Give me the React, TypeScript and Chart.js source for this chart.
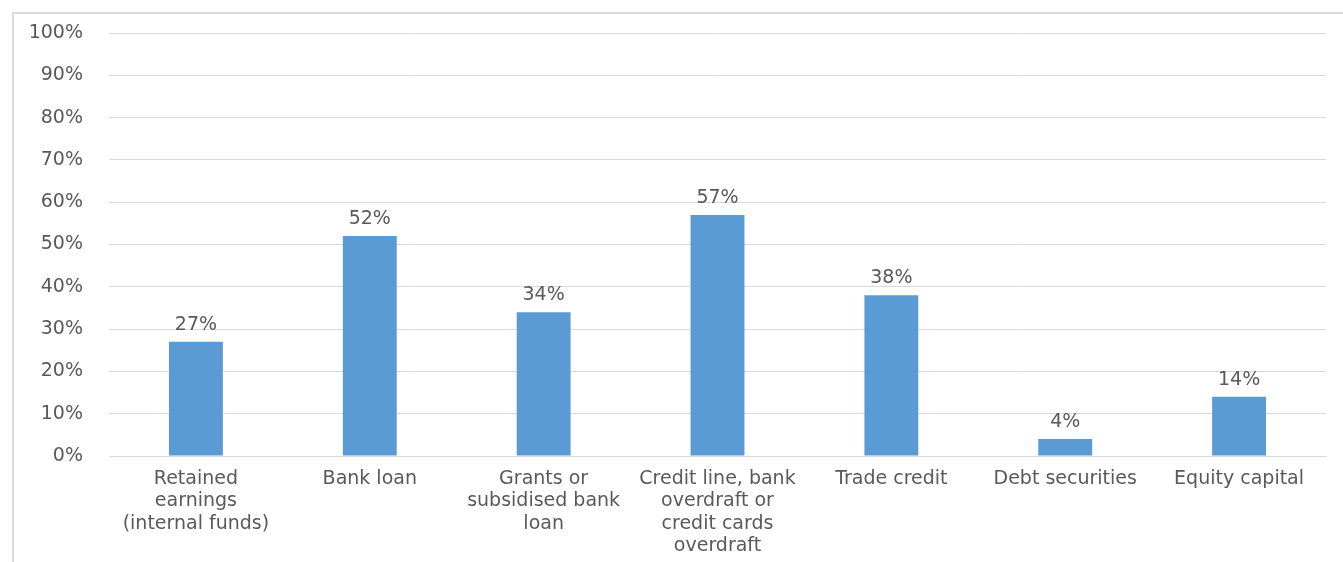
import React, { useEffect, useRef } from "react";
import { Chart, registerables } from "chart.js";

Chart.register(...registerables);

const categories: string[][] = [
  ["Retained", "earnings", "(internal funds)"],
  ["Bank loan"],
  ["Grants or", "subsidised bank", "loan"],
  ["Credit line, bank", "overdraft or", "credit cards", "overdraft"],
  ["Trade credit"],
  ["Debt securities"],
  ["Equity capital"],
];
const values: number[] = [27, 52, 34, 57, 38, 4, 14];
const yTicks: number[] = [0, 10, 20, 30, 40, 50, 60, 70, 80, 90, 100];

const TEXT = "#595959";
const FONT = "'DejaVu Sans', sans-serif";

const labelPlugin = {
  id: "barLabels",
  afterDatasetsDraw(chart: any) {
    const { ctx } = chart;
    const meta = chart.getDatasetMeta(0);
    ctx.save();
    ctx.fillStyle = TEXT;
    ctx.font = `19px ${FONT}`;
    ctx.textAlign = "center";
    ctx.textBaseline = "alphabetic";
    meta.data.forEach((bar: any, i: number) => {
      ctx.fillText(`${values[i]}%`, bar.x, bar.y - 12);
    });
    ctx.restore();
  },
};

export default function App() {
  const ref = useRef<HTMLCanvasElement>(null);
  useEffect(() => {
    if (!ref.current) return;
    const chart = new Chart(ref.current, {
      type: "bar",
      data: {
        labels: categories,
        datasets: [
          {
            data: values,
            backgroundColor: "#5B9BD5",
            categoryPercentage: 1,
            barPercentage: 0.31,
          },
        ],
      },
      options: {
        animation: false,
        responsive: false,
        maintainAspectRatio: false,
        layout: { padding: { left: 0, right: 17, top: 33, bottom: 0 } },
        plugins: { legend: { display: false }, tooltip: { enabled: false } },
        scales: {
          x: {
            grid: { display: false, drawTicks: false },
            border: { display: true, color: "#d9d9d9", width: 1 },
            ticks: {
              color: TEXT,
              font: { family: FONT, size: 19, lineHeight: 1.175 },
              padding: 12,
              maxRotation: 0,
              autoSkip: false,
            },
            afterFit: (s: any) => {
              s.height = 106;
              s.paddingLeft = 0;
              s.paddingRight = 0;
            },
          },
          y: {
            min: 0,
            max: 100,
            afterBuildTicks: (s: any) => {
              s.ticks = yTicks.map((v) => ({ value: v }));
            },
            grid: { color: "#d9d9d9", drawTicks: false },
            border: { display: false },
            ticks: {
              color: TEXT,
              font: { family: FONT, size: 19 },
              padding: 26,
              callback: (v: any) => `${v}%`,
            },
            afterFit: (s: any) => {
              s.width = 109;
              s.paddingTop = 0;
              s.paddingBottom = 0;
            },
          },
        },
      },
      plugins: [labelPlugin],
    });
    return () => chart.destroy();
  }, []);
  return (
    <div style={{ position: "absolute", left: 0, top: 0, width: 1343, height: 562, overflow: "hidden", background: "#fff" }}>
      <div
        style={{
          position: "absolute",
          left: 12,
          top: 12,
          width: 1400,
          height: 600,
          borderLeft: "2px solid #d9d9d9",
          borderTop: "2px solid #d9d9d9",
        }}
      />
      <canvas ref={ref} width={1343} height={562} style={{ position: "absolute", left: 0, top: 0 }} />
    </div>
  );
}
